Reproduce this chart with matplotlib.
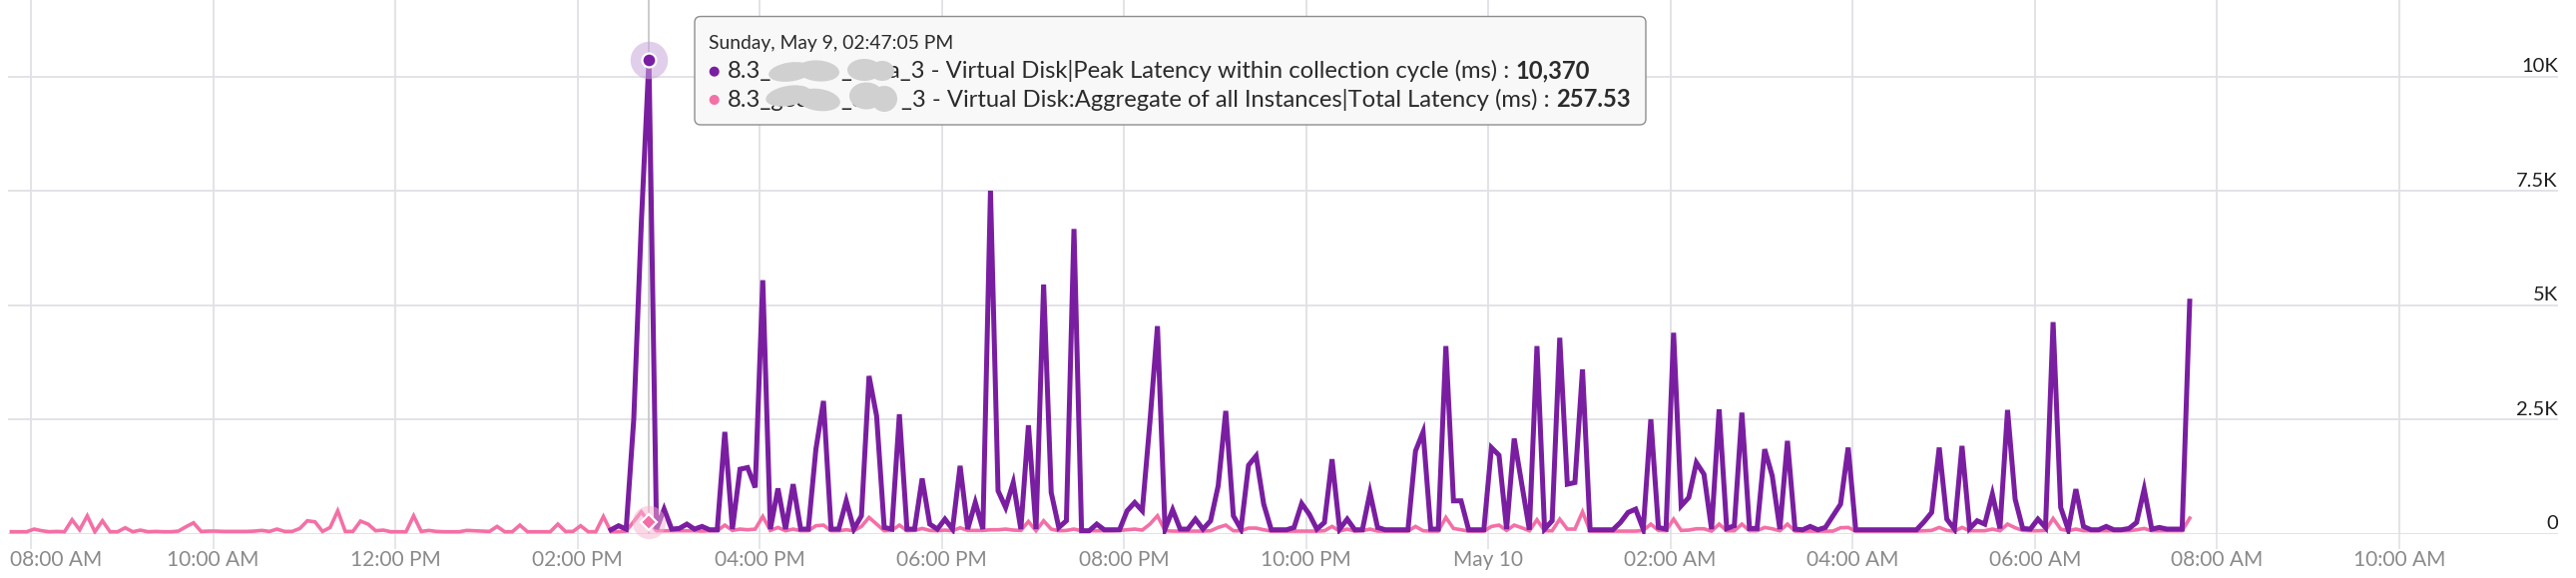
import numpy as np
import pandas as pd
import matplotlib
matplotlib.use("Agg")
import matplotlib.pyplot as plt
import matplotlib.transforms as mtransforms
from matplotlib.patches import FancyBboxPatch, Ellipse, Circle

plt.rcParams['font.family'] = ['Lato', 'DejaVu Sans']

# Total Latency (pink), 5-minute samples starting 07:47:05 AM May 9
total_start = "2021-05-09 07:47:05"
total_latency = [
    44, 44, 44, 102, 66, 44, 51, 44, 306, 87,
    393, 44, 284, 44, 44, 131, 44, 80, 44, 51,
    44, 44, 58, 153, 240, 51, 58, 58, 51, 51,
    51, 51, 58, 73, 51, 102, 51, 51, 116, 284,
    262, 51, 138, 502, 51, 51, 277, 211, 66, 80,
    44, 44, 44, 393, 51, 73, 51, 44, 44, 44,
    73, 66, 58, 51, 160, 44, 44, 189, 44, 44,
    44, 44, 211, 51, 51, 175, 44, 44, 378, 44,
    44, 58, 269, 480, 257.53, 66, 66, 66, 66, 66,
    66, 58, 66, 66, 189, 73, 102, 87, 102, 378,
    73, 138, 66, 102, 66, 66, 175, 189, 66, 66,
    87, 66, 160, 357, 211, 66, 73, 189, 66, 73,
    116, 73, 66, 80, 66, 131, 73, 73, 73, 87,
    87, 102, 80, 73, 269, 66, 284, 102, 66, 73,
    102, 66, 66, 66, 66, 66, 73, 87, 102, 80,
    211, 393, 66, 58, 58, 58, 58, 58, 66, 138,
    189, 66, 66, 124, 124, 87, 58, 58, 58, 58,
    58, 58, 58, 66, 160, 58, 102, 58, 66, 102,
    58, 58, 58, 58, 58, 160, 66, 58, 58, 357,
    116, 87, 58, 58, 58, 160, 189, 73, 189, 131,
    66, 306, 66, 66, 320, 102, 102, 480, 58, 58,
    58, 58, 58, 58, 58, 73, 211, 73, 66, 320,
    73, 80, 109, 109, 58, 211, 66, 66, 211, 66,
    66, 138, 109, 66, 211, 58, 58, 58, 58, 58,
    58, 131, 138, 58, 58, 58, 58, 58, 58, 58,
    58, 58, 66, 73, 138, 73, 58, 138, 66, 66,
    66, 102, 66, 211, 131, 73, 66, 66, 73, 335,
    102, 66, 102, 66, 66, 66, 66, 66, 66, 66,
    87, 116, 66, 66, 66, 66, 66, 342,
]

# Peak Latency within collection cycle (purple), starts 02:22:05 PM May 9
peak_start = "2021-05-09 14:22:05"
peak_latency = [
    87, 175, 102, 2500, 6800, 10370, 102, 539, 102, 116,
    211, 102, 160, 87, 87, 2227, 102, 1412, 1448, 1012,
    5546, 102, 990, 102, 1084, 102, 102, 1849, 2904, 102,
    102, 720, 102, 393, 3450, 2576, 138, 102, 2613, 102,
    102, 1208, 211, 102, 320, 102, 1485, 102, 684, 102,
    7504, 939, 575, 1121, 102, 2373, 102, 5451, 902, 138,
    284, 6667, 66, 66, 211, 87, 87, 87, 502, 684,
    502, 2431, 4541, 102, 524, 102, 102, 320, 102, 284,
    1048, 2686, 393, 102, 1499, 1703, 648, 87, 87, 87,
    138, 662, 429, 102, 247, 1630, 102, 320, 87, 87,
    902, 138, 87, 87, 87, 87, 1812, 2227, 102, 102,
    4105, 720, 720, 87, 87, 87, 1885, 1718, 102, 2082,
    1084, 87, 4105, 102, 284, 4287, 1084, 1121, 3595, 87,
    87, 87, 87, 247, 466, 539, 102, 2504, 138, 102,
    4396, 611, 793, 1557, 1303, 102, 2722, 116, 175, 2649,
    116, 116, 1849, 1266, 102, 2031, 102, 87, 160, 87,
    138, 393, 648, 1885, 87, 87, 87, 87, 87, 87,
    87, 87, 87, 262, 466, 1885, 320, 102, 1921, 116,
    284, 211, 866, 116, 2707, 757, 116, 102, 320, 138,
    4629, 575, 87, 975, 160, 87, 87, 160, 87, 87,
    116, 247, 975, 102, 138, 102, 102, 102, 5087,
]

tick_times = pd.date_range("2021-05-09 08:00", "2021-05-10 10:00", freq="2h")
tick_labels = ["08:00 AM", "10:00 AM", "12:00 PM", "02:00 PM", "04:00 PM",
               "06:00 PM", "08:00 PM", "10:00 PM", "May 10", "02:00 AM",
               "04:00 AM", "06:00 AM", "08:00 AM", "10:00 AM"]
y_ticks = [0, 2500, 5000, 7500, 10000]
y_labels = ["0", "2.5K", "5K", "7.5K", "10K"]

hover_time = pd.Timestamp("2021-05-09 14:47:05")
hover_label = "Sunday, May 9, 02:47:05 PM"
peak_name = "Virtual Disk|Peak Latency within collection cycle (ms) : "
total_name = "Virtual Disk:Aggregate of all Instances|Total Latency (ms) : "
hover_peak = "10,370"
hover_total = "257.53"

total_t = pd.date_range(total_start, periods=len(total_latency), freq="5min")
peak_t = pd.date_range(peak_start, periods=len(peak_latency), freq="5min")
hover_peak_v = peak_latency[list(peak_t).index(hover_time)]
hover_total_v = total_latency[list(total_t).index(hover_time)]

purple = "#7a1ea1"
pink = "#f46fa6"
grid_c = "#dfe1e5"

W, H = 2581, 579
fig = plt.figure(figsize=(W / 100, H / 100), dpi=100)
ax = fig.add_axes([8 / W, 1 - 534.7 / H, (2562.7 - 8) / W, 534.7 / H])
ax.set_xlim(pd.Timestamp("2021-05-09 07:44:52"), pd.Timestamp("2021-05-10 11:44:31"))
ax.set_ylim(0, 11675)

for s in ax.spines.values():
    s.set_visible(False)
ax.set_xticks(tick_times)
ax.set_xticklabels(tick_labels)
ax.set_yticks(y_ticks)
ax.set_yticklabels([])
ax.grid(True, color=grid_c, lw=1.3, zorder=0)
ax.set_axisbelow(True)
ax.tick_params(axis='x', length=11, width=1.2, color=grid_c, pad=1,
               labelsize=15, labelcolor="#8a8a8a")
ax.tick_params(axis='y', length=0)

# first label is pushed right so it stays inside the chart
first = ax.get_xticklabels()[0]
first.set_horizontalalignment('left')
first.set_transform(first.get_transform() +
                    mtransforms.ScaledTranslation(-0.21, 0, fig.dpi_scale_trans))

for v, lab in zip(y_ticks, y_labels):
    ax.annotate(lab, xy=(1, v), xycoords=('axes fraction', 'data'),
                xytext=(0, 3.3), textcoords='offset points',
                ha='right', va='baseline', fontsize=14.5, color="#1e1e1e")

# hover crosshair
ax.axvline(hover_time, color="#c3c3c3", lw=1.2, zorder=1)

ax.plot(total_t, total_latency, color=pink, lw=2.6, zorder=3,
        solid_joinstyle='miter')
ax.plot(peak_t, peak_latency, color=purple, lw=3.6, zorder=4,
        solid_joinstyle='miter')

# hover markers
ax.plot(hover_time, hover_peak_v, 'o', ms=27, color="#c9a6dc", alpha=0.55,
        mew=0, zorder=5, clip_on=False)
ax.plot(hover_time, hover_peak_v, 'o', ms=10, color=purple, mec='white',
        mew=1.6, zorder=6, clip_on=False)
ax.plot(hover_time, hover_total_v, 'o', ms=24, color="#f7b3cf", alpha=0.5,
        mew=0, zorder=5, clip_on=False)
ax.plot(hover_time, hover_total_v, 'D', ms=8, color=pink, mec='white',
        mew=1.6, zorder=6, clip_on=False)

# tooltip in pixel coordinates
ov = fig.add_axes([0, 0, 1, 1], zorder=10)
ov.set_xlim(0, W)
ov.set_ylim(H, 0)
ov.axis('off')
ov.patch.set_alpha(0)

ov.add_patch(FancyBboxPatch((696, 16.5), 953, 108.5,
                            boxstyle="round,pad=0,rounding_size=6",
                            fc="#f8f8f8", ec="#8e8e8e", lw=1.0))
txt_c = "#2b2b2b"
r = fig.canvas.get_renderer()

head = ov.text(710, 49, hover_label, fontsize=12, color=txt_c, va='baseline')
w = head.get_window_extent(r).width
head.set_fontsize(12 * 245 / w)

rest1 = ov.text(890, 78.3, "a_3 - " + peak_name, fontsize=15, color=txt_c, va='baseline')
rest2 = ov.text(903, 106.7, "_3 - " + total_name, fontsize=15, color=txt_c, va='baseline')
val2 = ov.text(0, 106.7, hover_total, fontsize=15, color=txt_c, va='baseline', fontweight='bold')
w2 = rest2.get_window_extent(r).width + val2.get_window_extent(r).width
fs = 15 * 733 / w2
for t in (rest1, rest2, val2):
    t.set_fontsize(fs)
val2.set_x(rest2.get_window_extent(r).x1)
val1 = ov.text(rest1.get_window_extent(r).x1, 78.3, hover_peak, fontsize=fs,
               color=txt_c, va='baseline', fontweight='bold')

ov.text(729, 78.3, "8.3_", fontsize=fs, color=txt_c, va='baseline')
ov.text(842, 78.3, "_", fontsize=fs, color=txt_c, va='baseline')
ov.text(729, 106.7, "8.3_gec", fontsize=fs, color=txt_c, va='baseline')
ov.text(842, 106.7, "_c", fontsize=fs, color=txt_c, va='baseline')

blob_c = "#d0d0d0"
for cx, cy, bw, bh, ang in [(792, 72, 44, 19, -8), (820, 71, 42, 21, 5),
                            (866, 70, 34, 22, 0), (884, 71, 24, 20, 0),
                            (790, 96, 46, 20, -10), (820, 100, 44, 22, 8),
                            (868, 96, 34, 27, 0), (886, 99, 26, 26, 0)]:
    ov.add_patch(Ellipse((cx, cy), bw, bh, angle=ang, fc=blob_c, ec='none', zorder=5))

ov.add_patch(Circle((715.7, 71.7), 5, fc=purple, ec='none'))
ov.add_patch(Circle((715.7, 100), 5, fc=pink, ec='none'))

fig.savefig("out.png", dpi=100)
